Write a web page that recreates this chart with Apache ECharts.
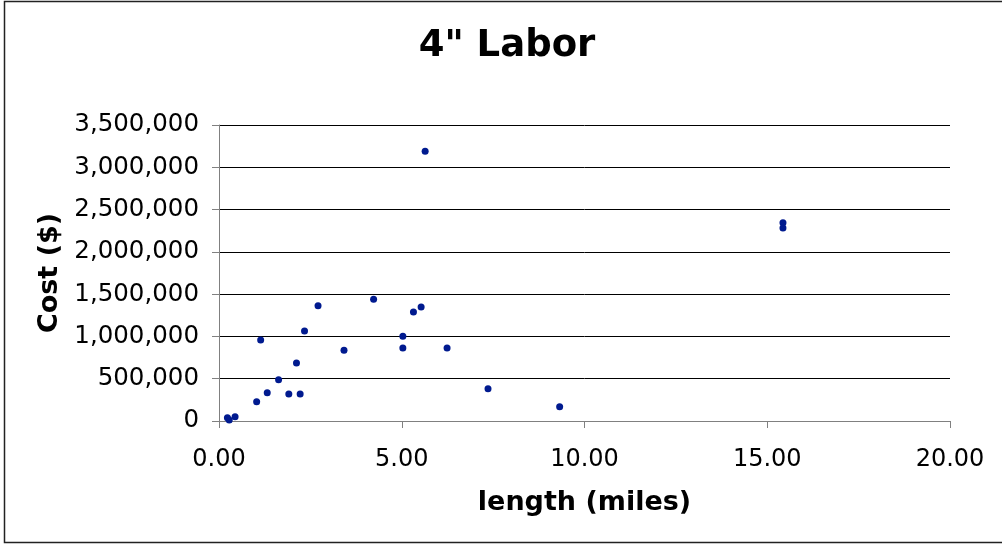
<!DOCTYPE html>
<html>
<head>
<meta charset="utf-8">
<script src="https://cdn.jsdelivr.net/npm/echarts@6/dist/echarts.min.js"></script>
<style>
html,body{margin:0;padding:0;background:#fff;}
#c{width:1002px;height:544px;}
</style>
</head>
<body>
<div id="c"></div>
<script>
var lengthMiles = [0.23, 0.28, 0.44, 1.03, 1.14, 1.32, 1.63, 1.91, 2.12, 2.22, 2.34, 2.71, 3.42, 4.23, 5.03, 5.03, 5.32, 5.53, 5.64, 6.24, 7.36, 9.32, 15.43, 15.43];
var costDollars = [39000, 12000, 50000, 228000, 957000, 335000, 488000, 319000, 686000, 319000, 1064000, 1363000, 836000, 1439000, 1001000, 863000, 1288000, 1348000, 3190000, 863000, 382000, 169000, 2345000, 2281000];
var xTicks = [0, 5, 10, 15, 20];
var yTicks = [0, 500000, 1000000, 1500000, 2000000, 2500000, 3000000, 3500000];

var pts = lengthMiles.map(function (x, i) { return [x, costDollars[i]]; });
var FONT = 'DejaVu Sans';

var chart = echarts.init(document.getElementById('c'), null, { renderer: 'canvas' });
chart.setOption({
  animation: false,
  backgroundColor: '#fff',
  title: {
    text: '4" Labor',
    left: 502,
    top: 23,
    textAlign: 'center',
    textStyle: { fontFamily: FONT, fontWeight: 'bold', fontSize: 37, color: '#000' }
  },
  graphic: [{
    type: 'rect',
    shape: { x: 4.5, y: 1.5, width: 1010, height: 541 },
    style: { fill: 'none', stroke: '#222', lineWidth: 1.5 },
    silent: true
  }],
  grid: { left: 219, right: 52, top: 125, bottom: 123 },
  xAxis: {
    type: 'value',
    min: xTicks[0],
    max: xTicks[xTicks.length - 1],
    interval: xTicks[1] - xTicks[0],
    name: 'length (miles)',
    nameLocation: 'middle',
    nameGap: 68,
    nameTextStyle: { fontFamily: FONT, fontWeight: 'bold', fontSize: 27, color: '#000' },
    axisLine: { onZero: false, lineStyle: { color: '#808080', width: 1 } },
    axisTick: { show: true, inside: false, length: 7, lineStyle: { color: '#808080' } },
    axisLabel: {
      margin: 27,
      fontFamily: FONT, fontSize: 24, color: '#000',
      formatter: function (v) { return v.toFixed(2); }
    },
    splitLine: { show: false }
  },
  yAxis: {
    type: 'value',
    min: yTicks[0],
    max: yTicks[yTicks.length - 1],
    interval: yTicks[1] - yTicks[0],
    name: 'Cost ($)',
    nameLocation: 'middle',
    nameGap: 153,
    nameRotate: 90,
    nameTextStyle: { fontFamily: FONT, fontWeight: 'bold', fontSize: 27, color: '#000' },
    axisLine: { show: true, lineStyle: { color: '#808080', width: 1 } },
    axisTick: { show: true, inside: false, length: 7, lineStyle: { color: '#808080' } },
    axisLabel: {
      margin: 20,
      fontFamily: FONT, fontSize: 24.5, color: '#000',
      formatter: function (v) { return v.toLocaleString('en-US'); }
    },
    splitLine: { show: true, lineStyle: { color: '#000', width: 1 } }
  },
  series: [{
    type: 'scatter',
    data: pts,
    symbol: 'circle',
    symbolSize: 7,
    itemStyle: { color: '#001a8f', opacity: 1 }
  }]
});
</script>
</body>
</html>
